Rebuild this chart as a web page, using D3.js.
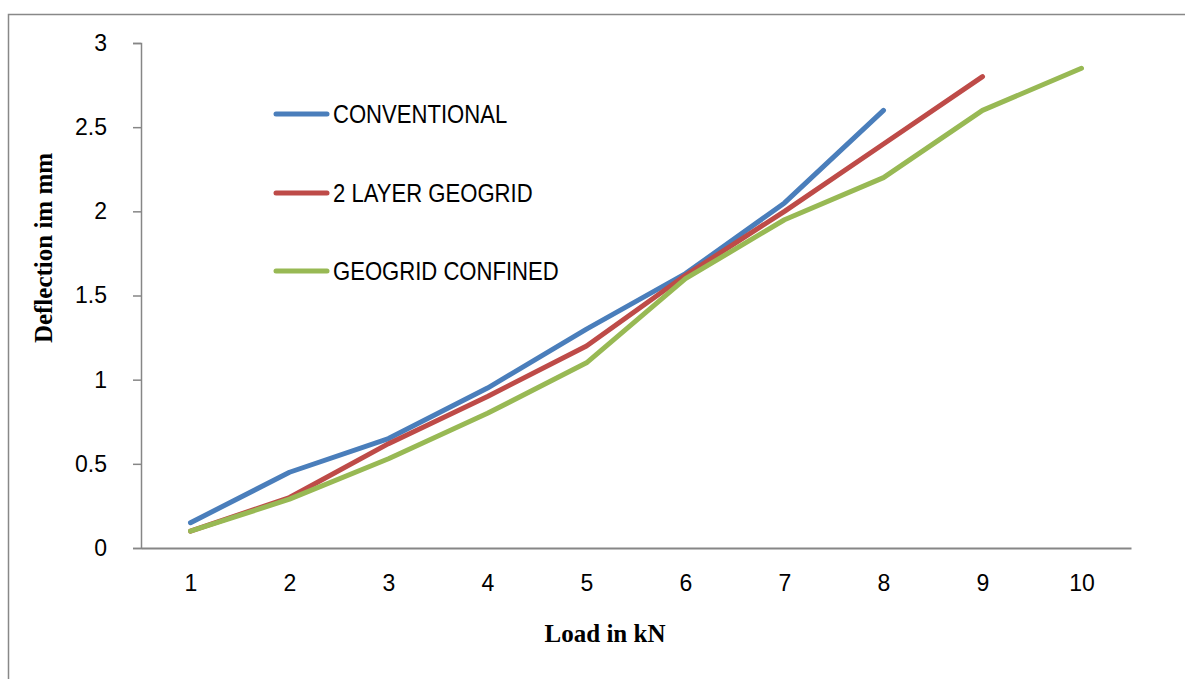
<!DOCTYPE html>
<html>
<head>
<meta charset="utf-8">
<script src="https://cdn.jsdelivr.net/npm/d3@7"></script>
<style>
  html, body { margin: 0; padding: 0; background: #fff; }
  svg { display: block; }
</style>
</head>
<body>
<script>
const categories = [1, 2, 3, 4, 5, 6, 7, 8, 9, 10];
const yTicks = [0, 0.5, 1, 1.5, 2, 2.5, 3];
const seriesNames = ["CONVENTIONAL", "2 LAYER GEOGRID", "GEOGRID CONFINED"];
const conventional = [0.15, 0.45, 0.65, 0.95, 1.3, 1.63, 2.05, 2.6];
const twoLayerGeogrid = [0.1, 0.3, 0.62, 0.9, 1.2, 1.62, 2.0, 2.4, 2.8];
const geogridConfined = [0.1, 0.29, 0.53, 0.8, 1.1, 1.6, 1.95, 2.2, 2.6, 2.85];
const seriesColors = ["#4a7ebb", "#be4b48", "#98b954"];

const W = 1185, H = 679;
const NARROW = 0.85;
const sansFont = '"Liberation Sans", Arial, sans-serif';
const svg = d3.select("body").append("svg").attr("width", W).attr("height", H);

// outer chart border
svg.append("rect").attr("x", 8.5).attr("y", 14.5).attr("width", 1190).attr("height", 700)
  .attr("fill", "none").attr("stroke", "#888").attr("stroke-width", 1.5);

const x0 = 141, x1 = 1131, yTop = 43, yBot = 548;
const x = d3.scalePoint().domain(categories).range([x0, x1]).padding(0.5);
const y = d3.scaleLinear().domain([0, 3]).range([yBot, yTop]);

// Y axis
const gy = svg.append("g").attr("transform", `translate(${x0},0)`)
  .call(d3.axisLeft(y).tickValues(yTicks).tickSize(8).tickPadding(26).tickFormat(d3.format("")));
gy.select(".domain").attr("stroke", "#868686").attr("stroke-width", 1.5);
gy.selectAll(".tick line").attr("stroke", "#868686").attr("stroke-width", 1.5);
gy.selectAll(".tick text").attr("font-size", 23).attr("font-family", sansFont).attr("fill", "#000");

// X axis
const gx = svg.append("g").attr("transform", `translate(0,${yBot})`)
  .call(d3.axisBottom(x).tickSize(0).tickPadding(0));
gx.select(".domain").attr("stroke", "#868686").attr("stroke-width", 2);
gx.selectAll(".tick text").attr("font-size", 23).attr("font-family", sansFont).attr("fill", "#000")
  .attr("y", 43).attr("dy", null);

// Lines
const allSeries = [conventional, twoLayerGeogrid, geogridConfined];
const line = d3.line().x((d, i) => x(categories[i])).y(d => y(d));
allSeries.forEach((vals, k) => {
  svg.append("path").datum(vals).attr("d", line)
    .attr("fill", "none").attr("stroke", seriesColors[k]).attr("stroke-width", 5)
    .attr("stroke-linecap", "round").attr("stroke-linejoin", "round");
});

// Legend
const legendY = [114, 193, 271];
seriesNames.forEach((name, k) => {
  svg.append("line").attr("x1", 276).attr("x2", 327).attr("y1", legendY[k]).attr("y2", legendY[k])
    .attr("stroke", seriesColors[k]).attr("stroke-width", 5).attr("stroke-linecap", "round");
  svg.append("text").attr("transform", `translate(333,${legendY[k] + 9}) scale(${NARROW},1)`)
    .attr("font-family", sansFont)
    .attr("font-size", 26).attr("fill", "#000").text(name);
});

// Axis titles
svg.append("text").attr("x", 605).attr("y", 642).attr("text-anchor", "middle")
  .attr("font-family", '"Liberation Serif", "Times New Roman", serif').attr("font-weight", "bold")
  .attr("font-size", 25).attr("fill", "#000").text("Load in kN");
svg.append("text").attr("transform", "translate(52,248) rotate(-90)").attr("text-anchor", "middle")
  .attr("font-family", '"Liberation Serif", "Times New Roman", serif').attr("font-weight", "bold")
  .attr("font-size", 25).attr("fill", "#000").text("Deflection im mm");
</script>
</body>
</html>
